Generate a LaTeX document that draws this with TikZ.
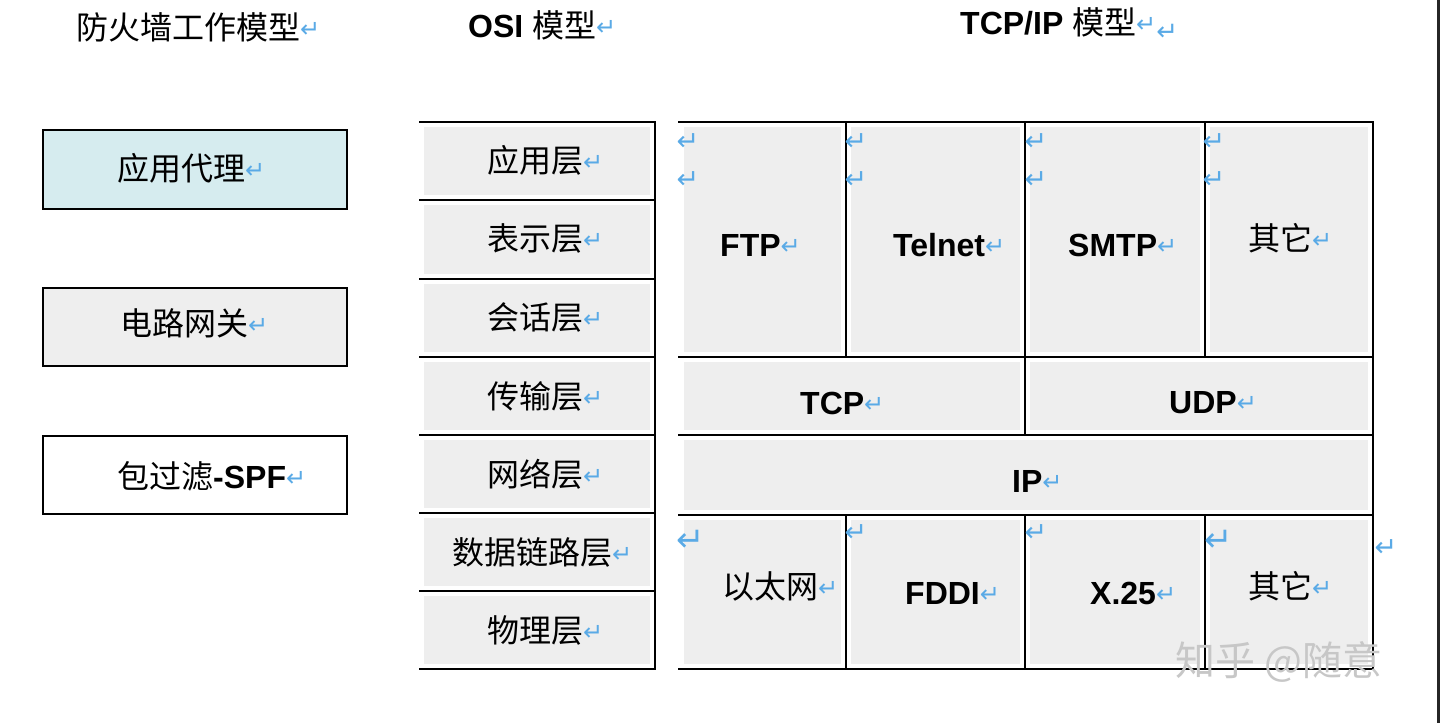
\documentclass[tikz,border=0pt]{standalone}
\usepackage{fontspec}
\setmainfont{Liberation Sans}
\newfontfamily\cjk{Noto Sans CJK SC}
\newfontfamily\symf{DejaVu Sans}
\definecolor{retblue}{HTML}{5AAAE6}
\definecolor{cellgray}{HTML}{EEEEEE}
\definecolor{cyanfill}{HTML}{D6ECEF}
\newcommand\retm[1][24]{\raisebox{2bp}{\symf\fontsize{#1bp}{#1bp}\selectfont\textcolor{retblue}{↵}}}
\begin{document}
\begin{tikzpicture}[x=1bp,y=-1bp,
  txt/.style={font=\fontsize{32bp}{36bp}\selectfont, inner sep=0pt, anchor=west},
  ttl/.style={font=\fontsize{32bp}{36bp}\selectfont, inner sep=0pt, anchor=west},
  ln/.style={line width=2bp, line cap=rect},
  fwbox/.style={draw, line width=2bp, minimum width=304bp, minimum height=78bp, inner sep=0pt},
  cell/.style={fill=cellgray},
  rmark/.style={inner sep=0pt, font=\symf\fontsize{27bp}{27bp}\selectfont, text=retblue}]
\useasboundingbox (0,0) rectangle (1440,723);
\fill[white] (0,0) rectangle (1440,723);
\fill[black!85] (1437,0) rectangle (1440,723);

% titles
\node[ttl] (t1) at (76,27) {{\cjk 防火墙工作模型}\retm};
\node[ttl] (t2) at (468,25) {\textbf{OSI} {\cjk 模型}\retm};
\node[ttl] (t3) at (960,25) {\textbf{TCP/IP} {\cjk 模型}\retm\raisebox{-8bp}{\retm[26]}};

% firewall boxes
\node[fwbox, fill=cyanfill] (fw1) at (195,169.5) {};
\node[fwbox, fill=cellgray] (fw2) at (195,327) {};
\node[fwbox, fill=white] (fw3) at (195,475) {};
\node[txt] (fw1t) at (117,168) {{\cjk 应用代理}\retm};
\node[txt] (fw2t) at (120,323) {{\cjk 电路网关}\retm};
\node[txt] (fw3t) at (117,476) {{\cjk 包过滤}\textbf{-SPF}\retm};

% OSI column
\foreach \a/\b in {122/200,200/279,279/357,357/435,435/513,513/591,591/669}
  \fill[cellgray] (424,\a+5) rectangle (650,\b-5);
\foreach \y in {122,200,279,357,435,513,591,669}
  \draw[ln] (420,\y) -- (655,\y);
\draw[ln] (655,122) -- (655,669);
\node[txt] (o7) at (487,160) {{\cjk 应用层}\retm};
\node[txt] (o6) at (487,238) {{\cjk 表示层}\retm};
\node[txt] (o5) at (487,317) {{\cjk 会话层}\retm};
\node[txt] (o4) at (487,396) {{\cjk 传输层}\retm};
\node[txt] (o3) at (487,474) {{\cjk 网络层}\retm};
\node[txt] (o2) at (452,552) {{\cjk 数据链路层}\retm};
\node[txt] (o1) at (487,630) {{\cjk 物理层}\retm};

% TCP/IP column fills
\foreach \l/\r in {679/846,846/1025,1025/1205,1205/1373}{
  \fill[cellgray] (\l+5,127) rectangle (\r-5,352);
  \fill[cellgray] (\l+5,520) rectangle (\r-5,664);}
\fill[cellgray] (684,362) rectangle (1020,430);
\fill[cellgray] (1030,362) rectangle (1368,430);
\fill[cellgray] (684,440) rectangle (1368,510);
% TCP/IP lines
\foreach \y in {122,357,435,515,669}
  \draw[ln] (679,\y) -- (1373,\y);
\draw[ln] (1373,122) -- (1373,669);
\draw[ln] (846,122) -- (846,357);
\draw[ln] (1025,122) -- (1025,435);
\draw[ln] (1205,122) -- (1205,357);
\draw[ln] (846,515) -- (846,669);
\draw[ln] (1025,515) -- (1025,669);
\draw[ln] (1205,515) -- (1205,669);

% TCP/IP labels
\node[txt] (ftp) at (720,245) {\textbf{FTP}\retm};
\node[txt] (telnet) at (893,245) {\textbf{Telnet}\retm};
\node[txt] (smtp) at (1068,245) {\textbf{SMTP}\retm};
\node[txt] (app4) at (1248,238) {{\cjk 其它}\retm};
\node[txt] (tcp) at (800,403) {\textbf{TCP}\retm};
\node[txt] (udp) at (1169,403) {\textbf{UDP}\retm};
\node[txt] (ip) at (1012,481) {\textbf{IP}\retm};
\node[txt] (eth) at (722,586) {{\cjk 以太网}\retm};
\node[txt] (fddi) at (905,593) {\textbf{FDDI}\retm};
\node[txt] (x25) at (1090,593) {\textbf{X.25}\retm};
\node[txt] (net4) at (1248,586) {{\cjk 其它}\retm};

% standalone paragraph marks
\foreach \x [count=\i] in {688,856,1036,1214}{
  \node[rmark] (ra\i) at (\x,142) {↵};
  \node[rmark] (rb\i) at (\x,180) {↵};}
\node[rmark, font=\symf\fontsize{34bp}{34bp}\selectfont] (rc1) at (691,541) {↵};
\node[rmark] (rc2) at (856,533) {↵};
\node[rmark] (rc3) at (1036,533) {↵};
\node[rmark, font=\symf\fontsize{34bp}{34bp}\selectfont] (rc4) at (1219,541) {↵};
\node[rmark] (rc5) at (1386,548) {↵};

% watermark
\node[inner sep=0pt, anchor=west, text=black!22, font=\cjk\fontsize{40bp}{44bp}\selectfont] (wm) at (1175,662) {知乎 @随意};
\end{tikzpicture}
\end{document}
